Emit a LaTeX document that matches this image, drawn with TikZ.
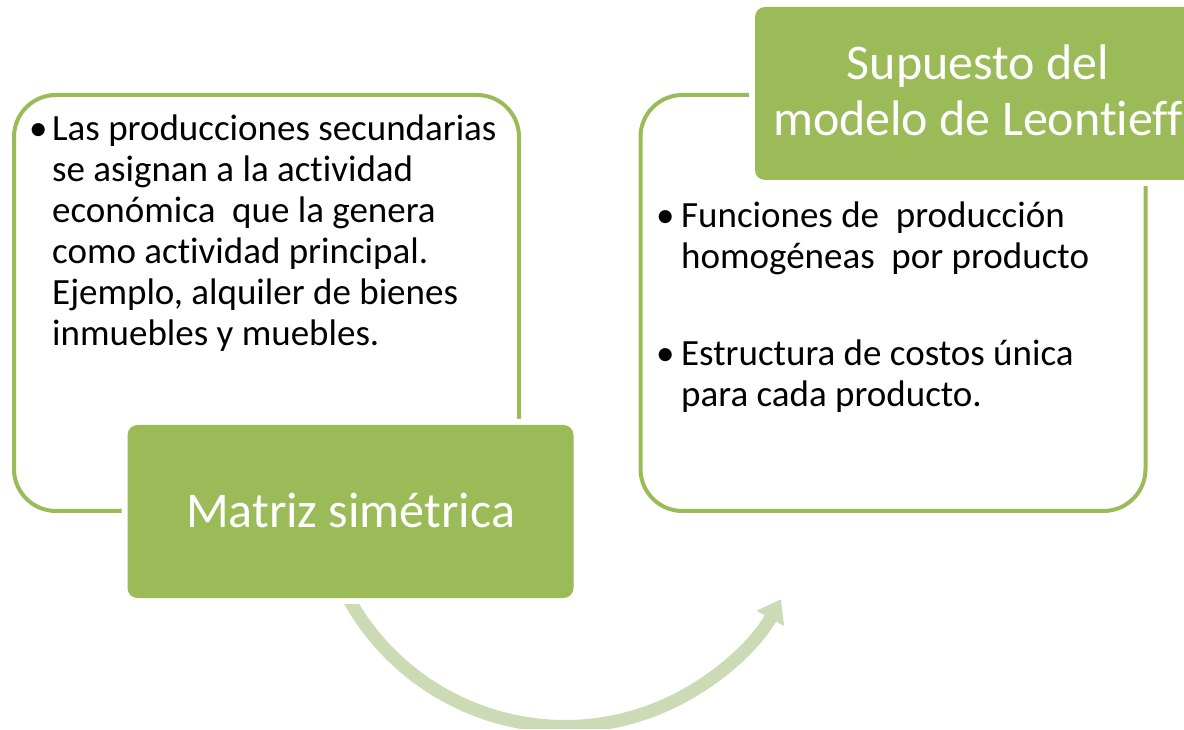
\documentclass[tikz,border=0pt]{standalone}
\usepackage{fontspec}
\setmainfont[Ligatures=NoCommon]{Carlito}
\usetikzlibrary{arrows.meta}
\definecolor{accgreen}{HTML}{9BBB59}
\definecolor{lightarrow}{HTML}{CCDBB5}
\begin{document}
\begin{tikzpicture}[x=1pt,y=1pt,
  outline/.style={draw=accgreen, line width=4pt, rounded corners=42pt,
    minimum width=505pt, minimum height=416pt, inner sep=0pt},
  greenbox/.style={fill=accgreen, rounded corners=10pt,
    preaction={draw=white, line width=12pt},
    minimum width=446pt, minimum height=173pt, inner sep=0pt,
    text=white, font=\fontsize{50}{56}\selectfont},
  bodytext/.style={inner sep=0pt, anchor=base west,
    font=\fontsize{37}{41}\selectfont, text=black},
  flow/.style={draw=lightarrow, line width=13pt,
    -{Triangle[width=30pt,length=22pt]}}
]
\clip (0,0) rectangle (1184,729);
\useasboundingbox (0,0) rectangle (1184,729);

% outline boxes
\node[outline] (lbox) at (266.5,426) {};
\node[outline] (rbox) at (893,426) {};

% green title boxes
\node[greenbox, text height=33pt, text depth=0pt] (mat) at (350.5,217.5) {Matriz simétrica};
\node[greenbox, text height=29pt, text depth=56pt] (sup) at (978,635.5)
  {\parbox[t]{446pt}{\centering Supuesto del\\modelo de Leontieff}};

% body texts
\node[bodytext] (ltext) at (29,588) {\parbox[t]{500pt}{%
  \hangindent=23pt\hangafter=1\noindent\makebox[23pt][l]{•}Las producciones secundarias\newline
  se asignan a la actividad\newline
  económica \ que la genera\newline
  como actividad principal.\newline
  Ejemplo, alquiler de bienes\newline
  inmuebles y muebles.}};

\node[bodytext] (rtext) at (656,501) {\parbox[t]{500pt}{%
  \hangindent=25pt\hangafter=1\noindent\makebox[25pt][l]{•}Funciones de \ producción\newline
  homogéneas \ por producto\par
  \vspace{56pt}%
  \hangindent=25pt\hangafter=1\noindent\makebox[25pt][l]{•}Estructura de costos única\newline
  para cada producto.}};

% curved arrow
\begin{scope}
  \clip (0,0) -- (0,125) -- (600,125) -- (600,729) -- (1184,729) -- (1184,0) -- cycle;
  \coordinate (astart) at (341.1,145.2);
  \draw[flow] (astart) arc[start angle=205, end angle=331, radius=247];
\end{scope}
\end{tikzpicture}
\end{document}
